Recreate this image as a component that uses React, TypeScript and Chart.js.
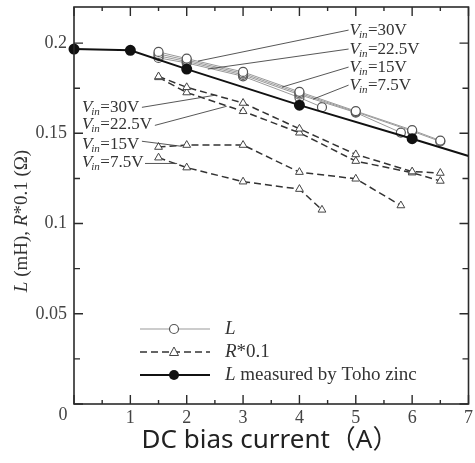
import { useEffect, useRef } from "react";
import { Chart, registerables } from "chart.js";

Chart.register(...registerables);

// Inductance L (mH) for each input voltage
const vinNames = ["30V", "22.5V", "15V", "7.5V"];
const lX30 = [1.5, 2, 3, 4, 5, 6, 6.5];
const lY30 = [0.1951, 0.1914, 0.184, 0.173, 0.1623, 0.1518, 0.146];
const lX225 = [1.5, 2, 3, 4, 5, 6, 6.5];
const lY225 = [0.194, 0.1906, 0.1832, 0.1722, 0.1619, 0.1512, 0.1455];
const lX15 = [1.5, 2, 3, 4, 5, 5.8];
const lY15 = [0.1929, 0.1898, 0.1824, 0.1714, 0.1615, 0.1504];
const lX75 = [1.5, 2, 3, 4, 4.4];
const lY75 = [0.1918, 0.189, 0.1816, 0.1698, 0.1645];

// Resistance R*0.1 (ohm) for each input voltage
const rX30 = [1.5, 2, 3, 4, 5, 6, 6.5];
const rY30 = [0.1815, 0.1755, 0.1668, 0.1525, 0.1383, 0.1288, 0.128];
const rX225 = [1.5, 2, 3, 4, 5, 6, 6.5];
const rY225 = [0.181, 0.1726, 0.1622, 0.1503, 0.1346, 0.1282, 0.1236];
const rX15 = [1.5, 2, 3, 4, 5, 5.8];
const rY15 = [0.1424, 0.1435, 0.1435, 0.1285, 0.1248, 0.11];
const rX75 = [1.5, 2, 3, 4, 4.4];
const rY75 = [0.1365, 0.131, 0.1232, 0.1191, 0.1076];

// Manufacturer curve (Toho zinc)
const tohoX = [0, 1, 2, 4, 6, 7];
const tohoY = [0.1967, 0.196, 0.1856, 0.1656, 0.147, 0.1374];

// Axis ranges and ticks
const xMin = 0;
const xMax = 7;
const yMin = 0;
const yMax = 0.22;
const yMajorStep = 0.05;
const yMinorStep = 0.025;
const xMinorStep = 0.5;

// Callout anchors (data units): label position and where its leader meets the curve
const lLabelAt = [
  [4.89, 0.2072],
  [4.89, 0.1967],
  [4.89, 0.1867],
  [4.89, 0.1767],
];
const lLeaderEnd = [
  [2.2, 0.19],
  [2.375, 0.1856],
  [3.69, 0.1756],
  [4.24, 0.1689],
];
const rLabelAt = [
  [0.14, 0.1644],
  [0.14, 0.155],
  [0.14, 0.1439],
  [0.14, 0.1339],
];
const rLeaderStart = [
  [1.205, 0.1644],
  [1.435, 0.1544],
  [1.205, 0.1456],
  [1.26, 0.1333],
];
const rLeaderEnd = [
  [2.5, 0.1711],
  [2.71, 0.165],
  [1.91, 0.1428],
  [1.83, 0.1333],
];

const SERIF = '"Liberation Serif", "Times New Roman", serif';
const INK = "#2b2b2b";
const L_LINE = "#9a9a9a";
const L_MARK = "#555";
const R_LINE = "#333";

const pts = (xs: number[], ys: number[]) => xs.map((x, i) => ({ x, y: ys[i] }));

const lSet = (xs: number[], ys: number[]) => ({
  data: pts(xs, ys),
  borderColor: L_LINE,
  borderWidth: 1,
  pointStyle: "circle",
  pointRadius: 4.5,
  pointBackgroundColor: "#fff",
  pointBorderColor: L_MARK,
  pointBorderWidth: 1.2,
  order: 1,
});

const rSet = (xs: number[], ys: number[]) => ({
  data: pts(xs, ys),
  borderColor: R_LINE,
  borderWidth: 1.5,
  borderDash: [7, 4],
  pointStyle: "triangle",
  pointRadius: 4.5,
  pointBackgroundColor: "#fff",
  pointBorderColor: "#444",
  pointBorderWidth: 1,
  order: 2,
});

function drawVin(ctx: CanvasRenderingContext2D, x: number, y: number, value: string) {
  ctx.textBaseline = "middle";
  ctx.textAlign = "left";
  ctx.fillStyle = "#333";
  ctx.font = `italic 17px ${SERIF}`;
  ctx.fillText("V", x, y);
  let cx = x + ctx.measureText("V").width - 1;
  ctx.font = `italic 11px ${SERIF}`;
  ctx.fillText("in", cx, y + 5);
  cx += ctx.measureText("in").width + 0.5;
  ctx.font = `17px ${SERIF}`;
  ctx.fillText("=" + value, cx, y);
}

function drawRuns(
  ctx: CanvasRenderingContext2D,
  x: number,
  y: number,
  runs: [string, boolean][],
  size: number
) {
  let cx = x;
  for (const [t, italic] of runs) {
    ctx.font = `${italic ? "italic " : ""}${size}px ${SERIF}`;
    ctx.fillText(t, cx, y);
    cx += ctx.measureText(t).width;
  }
  return cx - x;
}

function runsWidth(ctx: CanvasRenderingContext2D, runs: [string, boolean][], size: number) {
  let w = 0;
  for (const [t, italic] of runs) {
    ctx.font = `${italic ? "italic " : ""}${size}px ${SERIF}`;
    w += ctx.measureText(t).width;
  }
  return w;
}

const decorations = {
  id: "decorations",
  afterDraw(chart: any) {
    const { ctx, chartArea: a, scales } = chart;
    const sx = scales.x;
    const sy = scales.y;
    const px = (v: number) => sx.getPixelForValue(v);
    const py = (v: number) => sy.getPixelForValue(v);
    ctx.save();

    // frame
    ctx.strokeStyle = INK;
    ctx.lineWidth = 1.6;
    ctx.strokeRect(a.left, a.top, a.right - a.left, a.bottom - a.top);

    // inward ticks on all four sides
    ctx.lineWidth = 1.4;
    ctx.beginPath();
    for (let v = xMin; v <= xMax + 1e-9; v += xMinorStep) {
      const major = Math.abs(v - Math.round(v)) < 1e-9;
      const len = major ? 9 : 4;
      const x = px(v);
      ctx.moveTo(x, a.bottom);
      ctx.lineTo(x, a.bottom - len);
      ctx.moveTo(x, a.top);
      ctx.lineTo(x, a.top + len);
    }
    for (let v = yMin; v <= yMax + 1e-9; v += yMinorStep) {
      const r = v / yMajorStep;
      const major = Math.abs(r - Math.round(r)) < 1e-9;
      const len = major ? 9 : 6;
      const y = py(v);
      ctx.moveTo(a.left, y);
      ctx.lineTo(a.left + len, y);
      ctx.moveTo(a.right, y);
      ctx.lineTo(a.right - len, y);
    }
    ctx.stroke();

    // shared origin label
    ctx.fillStyle = "#444";
    ctx.font = `18px ${SERIF}`;
    ctx.textAlign = "center";
    ctx.textBaseline = "middle";
    ctx.fillText("0", a.left - 11, a.bottom + 11);

    // callouts for the L curves
    ctx.strokeStyle = "#444";
    ctx.lineWidth = 0.9;
    lLabelAt.forEach(([lx, ly], i) => {
      const x0 = px(lx);
      const y0 = py(ly);
      ctx.beginPath();
      ctx.moveTo(x0 - 1, y0);
      ctx.lineTo(px(lLeaderEnd[i][0]), py(lLeaderEnd[i][1]));
      ctx.stroke();
      drawVin(ctx, x0, y0, vinNames[i]);
    });

    // callouts for the R curves
    rLabelAt.forEach(([lx, ly], i) => {
      ctx.beginPath();
      ctx.moveTo(px(rLeaderStart[i][0]), py(rLeaderStart[i][1]));
      ctx.lineTo(px(rLeaderEnd[i][0]), py(rLeaderEnd[i][1]));
      ctx.stroke();
      drawVin(ctx, px(lx), py(ly), vinNames[i]);
    });

    // legend
    const lx0 = 140;
    const lx1 = 210;
    const mx = 174;
    const tx = 225;
    const rows = [329, 352, 375];
    ctx.lineWidth = 1.2;
    ctx.strokeStyle = L_LINE;
    ctx.beginPath();
    ctx.moveTo(lx0, rows[0]);
    ctx.lineTo(lx1, rows[0]);
    ctx.stroke();
    ctx.beginPath();
    ctx.arc(mx, rows[0], 4.5, 0, Math.PI * 2);
    ctx.fillStyle = "#fff";
    ctx.fill();
    ctx.strokeStyle = L_MARK;
    ctx.stroke();

    ctx.strokeStyle = R_LINE;
    ctx.lineWidth = 1.5;
    ctx.setLineDash([7, 4]);
    ctx.beginPath();
    ctx.moveTo(lx0, rows[1]);
    ctx.lineTo(lx1, rows[1]);
    ctx.stroke();
    ctx.setLineDash([]);
    ctx.lineWidth = 1;
    ctx.beginPath();
    ctx.moveTo(mx, rows[1] - 5);
    ctx.lineTo(mx + 4.5, rows[1] + 3.5);
    ctx.lineTo(mx - 4.5, rows[1] + 3.5);
    ctx.closePath();
    ctx.fillStyle = "#fff";
    ctx.fill();
    ctx.strokeStyle = "#444";
    ctx.stroke();

    ctx.strokeStyle = "#111";
    ctx.lineWidth = 2;
    ctx.beginPath();
    ctx.moveTo(lx0, rows[2]);
    ctx.lineTo(lx1, rows[2]);
    ctx.stroke();
    ctx.beginPath();
    ctx.arc(mx, rows[2], 5, 0, Math.PI * 2);
    ctx.fillStyle = "#111";
    ctx.fill();

    ctx.fillStyle = "#333";
    ctx.textAlign = "left";
    ctx.textBaseline = "middle";
    drawRuns(ctx, tx, rows[0], [["L", true]], 19);
    drawRuns(ctx, tx, rows[1], [["R", true], ["*0.1", false]], 19);
    drawRuns(ctx, tx, rows[2], [["L", true], [" measured by Toho zinc", false]], 19);

    // y-axis title
    const yRuns: [string, boolean][] = [
      ["L", true],
      [" (mH), ", false],
      ["R", true],
      ["*0.1 (Ω)", false],
    ];
    const w = runsWidth(ctx, yRuns, 19);
    ctx.save();
    ctx.translate(22, 221);
    ctx.rotate(-Math.PI / 2);
    drawRuns(ctx, -w / 2, 0, yRuns, 19);
    ctx.restore();

    // x-axis title
    ctx.font = '26px "Noto Sans", "Noto Sans CJK SC", sans-serif';
    ctx.fillStyle = "#222";
    ctx.textAlign = "center";
    ctx.fillText("DC bias current（A）", 270, 441);

    ctx.restore();
  },
};

export default function App() {
  const ref = useRef<HTMLCanvasElement | null>(null);

  useEffect(() => {
    if (!ref.current) return;
    const chart = new Chart(ref.current, {
      type: "line",
      data: {
        datasets: [
          {
            data: pts(tohoX, tohoY),
            borderColor: "#111",
            borderWidth: 2,
            pointStyle: "circle",
            pointRadius: tohoX.map((x) => (x === xMax ? 0 : 4.5)),
            pointBackgroundColor: "#111",
            pointBorderColor: "#111",
            clip: false,
            order: 0,
          },
          lSet(lX30, lY30),
          lSet(lX225, lY225),
          lSet(lX15, lY15),
          lSet(lX75, lY75),
          rSet(rX30, rY30),
          rSet(rX225, rY225),
          rSet(rX15, rY15),
          rSet(rX75, rY75),
        ] as any,
      },
      options: {
        animation: false,
        responsive: false,
        devicePixelRatio: 1,
        layout: { padding: { top: 7, right: 6, left: 0, bottom: 0 } },
        plugins: {
          legend: { display: false },
          tooltip: { enabled: false },
        },
        scales: {
          x: {
            type: "linear",
            min: xMin,
            max: xMax,
            afterFit: (s: any) => {
              s.height = 59;
              s.paddingLeft = 0;
              s.paddingRight = 0;
            },
            grid: { display: false, drawTicks: false },
            border: { display: false },
            ticks: {
              stepSize: 1,
              padding: 3,
              color: "#444",
              font: { family: SERIF, size: 18 },
              maxRotation: 0,
              callback: (v: any) => (Number(v) === 0 ? "" : String(v)),
            },
          },
          y: {
            type: "linear",
            min: yMin,
            max: yMax,
            afterFit: (s: any) => {
              s.width = 74;
              s.paddingTop = 0;
              s.paddingBottom = 0;
            },
            grid: { display: false, drawTicks: false },
            border: { display: false },
            ticks: {
              stepSize: yMajorStep,
              includeBounds: false,
              padding: 7,
              color: "#444",
              font: { family: SERIF, size: 18 },
              callback: (v: any) =>
                Number(v) === 0 ? "" : String(parseFloat(Number(v).toFixed(3))),
            },
          },
        },
      } as any,
      plugins: [decorations],
    });
    return () => chart.destroy();
  }, []);

  return (
    <div style={{ position: "absolute", left: 0, top: 0, width: 475, height: 463, background: "#fff" }}>
      <canvas ref={ref} width={475} height={463} style={{ display: "block" }} />
    </div>
  );
}
